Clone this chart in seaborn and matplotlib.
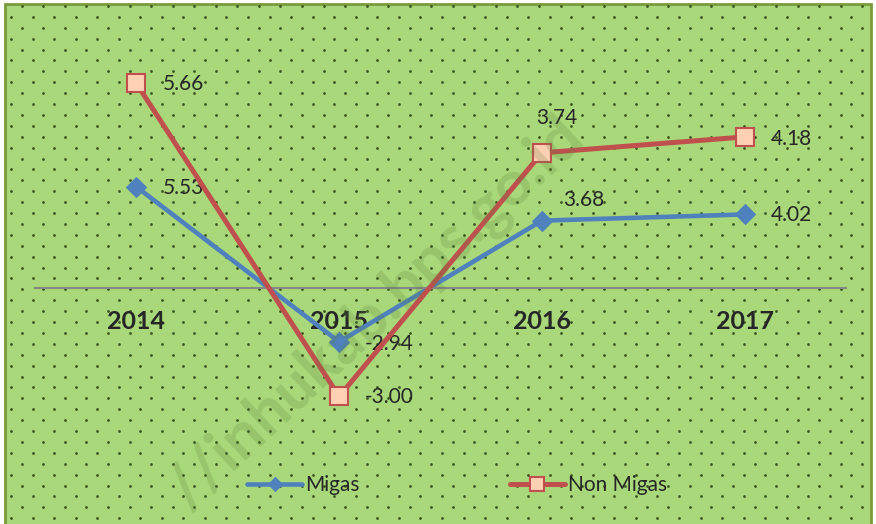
import numpy as np
import pandas as pd
import seaborn as sns
import matplotlib.pyplot as plt
from matplotlib.patches import Rectangle

years = ['2014', '2015', '2016', '2017']
migas = [5.53, -2.94, 3.68, 4.02]
non_migas = [5.66, -3.00, 3.74, 4.18]

# where each value label sits relative to its marker (pixels)
migas_offsets = [(26, -1), (26, -2), (21, 21), (26, -1)]
non_migas_offsets = [(26, -1), (26, -1), (-6, 35), (26, -2)]

sns.set_style('white')
plt.rcParams['font.family'] = ['Lato', 'DejaVu Sans']

W, H = 876, 524
fig = plt.figure(figsize=(W / 100, H / 100), dpi=100, facecolor='white')

# green panel with the dotted fill
bg = fig.add_axes([0, 0, 1, 1])
bg.set_xlim(0, W)
bg.set_ylim(H, 0)
bg.axis('off')
bg.add_patch(Rectangle((5, 4), 866, 530, facecolor='#A8D87A', edgecolor='#7A9A3C', lw=2))
gx, gy = [], []
for k, y in enumerate(np.arange(6, H, 10.9)):
    start = 11 + (10.8 if k % 2 == 0 else 0)
    for x in np.arange(start, 870, 21.55):
        gx.append(x)
        gy.append(y)
bg.scatter(gx, gy, s=4, color='#3A5520', linewidths=0)

df = pd.DataFrame({'pos': np.arange(len(years)), 'Migas': migas, 'Non Migas': non_migas})

ax = fig.add_axes([35 / W, 9 / H, 811 / W, 505 / H])
ax.patch.set_alpha(0)
ax2 = ax.twinx()
ax2.patch.set_alpha(0)

sns.lineplot(data=df, x='pos', y='Migas', ax=ax, color='#4F81BD', lw=3.3,
             marker='D', markersize=10, markerfacecolor='#4F81BD',
             markeredgecolor='#4F81BD', label='Migas', legend=False)
sns.lineplot(data=df, x='pos', y='Non Migas', ax=ax2, color='#C0504D', lw=3.6,
             marker='s', markersize=13, markerfacecolor='#FFD0B4',
             markeredgecolor='#C0504D', markeredgewidth=1.5, label='Non Migas', legend=False)

zero_px, top_px, bot_px = 288, 10, 515
ax.set_ylim(-(bot_px - zero_px) / 18.3, (zero_px - top_px) / 18.3)
ax2.set_ylim(-(bot_px - zero_px) / 36.14, (zero_px - top_px) / 36.14)
ax.set_xlim(-0.5, 3.5)

for a in (ax, ax2):
    for s in a.spines.values():
        s.set_visible(False)
    a.set_yticks([])
    a.set_ylabel('')
    a.set_xlabel('')

ax.spines['bottom'].set_visible(True)
ax.spines['bottom'].set_position(('data', 0))
ax.spines['bottom'].set_color('#868686')
ax.spines['bottom'].set_linewidth(1.5)
ax.set_xticks(df['pos'])
ax.set_xticklabels(years, fontsize=18, fontweight='bold')
ax.tick_params(axis='x', length=0, pad=16)

for i, v in enumerate(migas):
    ax.annotate(f'{v:.2f}', (i, v), xytext=migas_offsets[i], textcoords='offset pixels',
                ha='left', va='center', fontsize=15)
for i, v in enumerate(non_migas):
    ax2.annotate(f'{v:.2f}', (i, v), xytext=non_migas_offsets[i], textcoords='offset pixels',
                 ha='left', va='center', fontsize=15)

h1, l1 = ax.get_legend_handles_labels()
h2, l2 = ax2.get_legend_handles_labels()
fig.legend(h1 + h2, l1 + l2, loc='center', bbox_to_anchor=(457 / W, 1 - 485 / H),
           ncol=2, frameon=False, fontsize=15, handlelength=2.64, columnspacing=7.2,
           handletextpad=0.15, markerscale=0.75)

# faint watermark across the panel
fig.text(574 / W, 1 - 128 / H, '//inhukab.bps.go.id', rotation=43,
         rotation_mode='anchor', ha='right', va='center', fontsize=45,
         fontweight='bold', color='#5E7F3A', alpha=0.22, zorder=10)

fig.savefig('out.png', dpi=100)
